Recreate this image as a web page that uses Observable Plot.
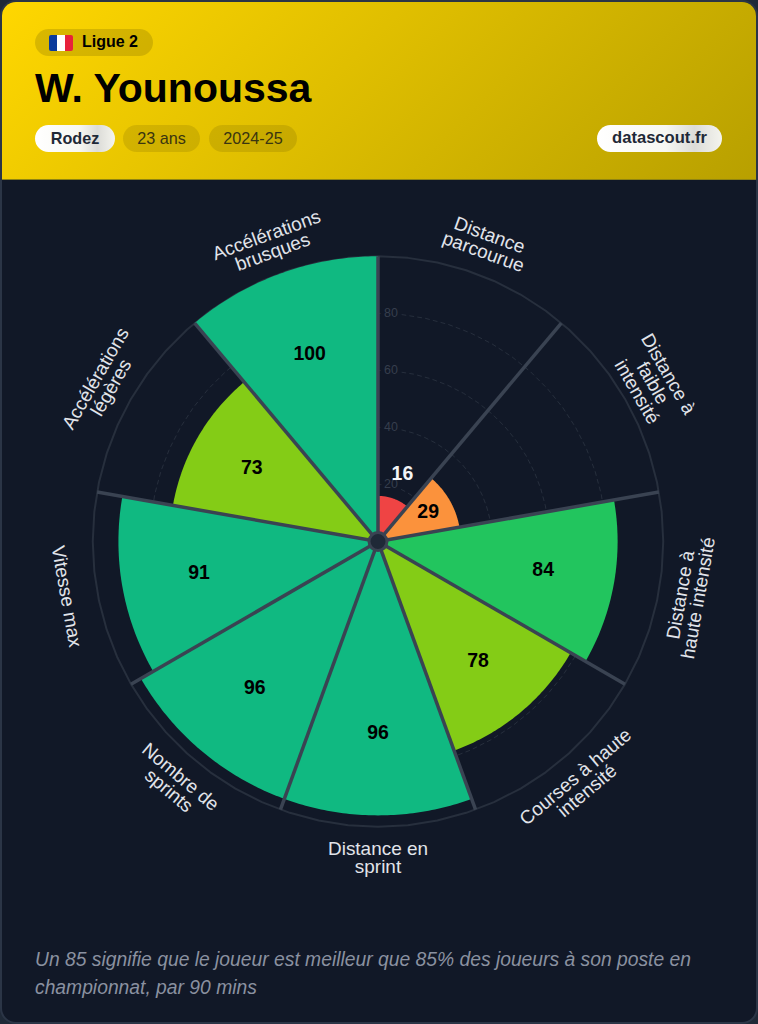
<!DOCTYPE html>
<html lang="fr"><head><meta charset="utf-8">
<script src="https://cdn.jsdelivr.net/npm/d3@7"></script>
<script src="https://cdn.jsdelivr.net/npm/@observablehq/plot@0.6"></script>
<style>
html,body{margin:0;padding:0;width:758px;height:1024px;overflow:hidden;background:#1f2937;font-family:"Liberation Sans",Arial,sans-serif}
#card{position:absolute;left:0;top:0;width:754px;height:1020px;border:2px solid #2b3546;border-radius:16px;background:#111827;overflow:hidden}
#head{position:absolute;left:0;top:0;width:754px;height:177px;background:linear-gradient(135deg,#ffd700,#b8a000);border-bottom:1px solid #8f8412}
.pill{position:absolute;height:27px;line-height:26px;border-radius:14px;font-size:16.2px;text-align:center;box-sizing:border-box}
.dim{background:rgba(0,0,0,.1);color:#3a3510}
.white{background:linear-gradient(90deg,#fff 0,#f7f7f2 55%,#dcdcd8 78%,#f4f4ee 100%);color:#1f2937;font-weight:700}
#league{left:33px;top:27px;width:118px;background:rgba(0,0,0,.13);color:#000;font-weight:700;font-size:16px;text-align:left;padding-left:47px}
#flag{position:absolute;left:14px;top:6px;width:24px;height:16px;border-radius:2px;background:linear-gradient(90deg,#0a3a9c 33.3%,#fff 33.3%,#fff 66.6%,#e8213b 66.6%)}
h1{position:absolute;left:33px;top:63px;margin:0;font-size:41px;line-height:46px;font-weight:700;color:#000}
#plot{position:absolute;left:-2px;top:178px}
#note{position:absolute;left:33px;top:944px;width:680px;font-style:italic;font-size:19.3px;line-height:28px;color:#8a91a0}
</style></head><body>
<div id="card">
  <div id="head">
    <div class="pill" id="league"><span id="flag"></span>Ligue 2</div>
    <h1>W. Younoussa</h1>
    <div class="pill white" style="left:33px;top:123px;width:80px">Rodez</div>
    <div class="pill dim" style="left:121px;top:123px;width:77px">23 ans</div>
    <div class="pill dim" style="left:207px;top:123px;width:88px">2024-25</div>
    <div class="pill white" style="left:595px;top:123px;width:125px;font-size:16.6px">datascout.fr</div>
  </div>
  <div id="plot"></div>
  <div id="note">Un 85 signifie que le joueur est meilleur que 85% des joueurs à son poste en championnat, par 90 mins</div>
</div>
<script>
const metrics = ["Distance\nparcourue","Distance à\nfaible\nintensité","Distance à\nhaute intensité","Courses à haute\nintensité","Distance en\nsprint","Nombre de\nsprints","Vitesse max","Accélérations\nlégères","Accélérations\nbrusques"];
const values = [16,29,84,78,96,96,91,73,100];
const colors = ["#ef4444","#fb923c","#22c55e","#84cc16","#10b981","#10b981","#10b981","#84cc16","#10b981"];
const gridLevels = [20,40,60,80];

const W = 758, H = 740, cx = 378.5, cy = 362, k = 2.86;
const sector = 360 / metrics.length;
const rad = d => d * Math.PI / 180;
const px = (r, a) => r * Math.sin(rad(a));
const py = (r, a) => r * Math.cos(rad(a));
const arc = (r, a0, a1) => d3.range(0, 61).map(i => { const a = a0 + (a1 - a0) * i / 60; return {x: px(r, a), y: py(r, a)}; });

const wedges = values.flatMap((v, i) => [{x: 0, y: 0}, ...arc(v, i * sector, (i + 1) * sector)].map(p => ({...p, id: i, fill: colors[i]})));
const rings = gridLevels.flatMap(l => arc(l, 0, 360).map(p => ({...p, level: l})));
const outer = arc(100, 0, 360);
const spokes = metrics.map((_, i) => ({x2: px(100, i * sector), y2: py(100, i * sector)}));
const names = metrics.map((m, i) => {
  const a = (i + .5) * sector;
  const r = 317.5 / k;
  return {t: m, x: px(r, a), y: py(r, a), rotate: a > 90 && a < 270 ? a - 180 : a};
});
const valueLabels = values.map((v, i) => {
  const a = (i + .5) * sector, r = v < 20 ? v + 9 : v * .7;
  return {t: String(v), x: px(r, a), y: py(r, a), fill: v < 20 ? "#f3f4f6" : "#000"};
});

const chart = Plot.plot({
  width: W, height: H, margin: 0,
  style: {background: "transparent", fontFamily: "'Liberation Sans',Arial,sans-serif"},
  x: {domain: [-cx / k, (W - cx) / k], range: [0, W], axis: null},
  y: {domain: [cy / k, (cy - H) / k], range: [0, H], axis: null},
  color: {type: "identity"},
  marks: [
    Plot.line(rings, {x: "x", y: "y", z: "level", stroke: "#262e3c", strokeWidth: 1, strokeDasharray: "4,4"}),
    Plot.text(gridLevels, {x: () => 0, y: d => d, text: String, dx: 13, fontSize: 12.5, fill: "#363e4d", stroke: "#111827", strokeWidth: 8, paintOrder: "stroke"}),
    Plot.line(outer, {x: "x", y: "y", stroke: "#272f3d", strokeWidth: 2}),
    Plot.line(wedges, {x: "x", y: "y", z: "id", fill: "fill", stroke: "none"}),
    Plot.link(spokes, {x1: () => 0, y1: () => 0, x2: "x2", y2: "y2", stroke: "#3a4352", strokeWidth: 3.5}),
    Plot.dot([0], {x: () => 0, y: () => 0, r: 9, fill: "#1f2937", stroke: "#3a4352", strokeWidth: 3}),
    Plot.text(valueLabels, {x: "x", y: "y", text: "t", fill: "fill", fontSize: 19.5, fontWeight: 700, dy: -0.5}),
    Plot.text(names, {x: "x", y: "y", text: "t", rotate: "rotate", fill: "#e1e4ea", fontSize: 19, lineHeight: .95})
  ]
});
document.getElementById("plot").append(chart);
</script>
</body></html>
